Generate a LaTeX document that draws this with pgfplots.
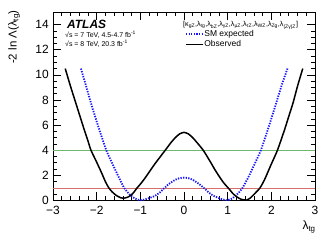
\documentclass[border=0pt]{standalone}
\usepackage{pgfplots}
\pgfplotsset{compat=1.18}
\usepackage{fontspec}
\setmainfont{Liberation Sans}
\definecolor{lgreen}{RGB}{110,185,110}
\definecolor{lred}{RGB}{215,110,110}
\definecolor{sblue}{RGB}{20,20,255}
\begin{document}
\begin{tikzpicture}
\begin{axis}[
  at={(0,0)}, anchor=south west,
  scale only axis, width=262bp, height=188.5bp,
  xmin=-3, xmax=3, ymin=0, ymax=15,
  xtick={-3,-2,-1,0,1,2,3}, xticklabels={−3,−2,−1,0,1,2,3},
  minor x tick num=4,
  ytick={0,2,4,6,8,10,12,14}, minor y tick num=3,
  tick align=inside, major tick length=8bp, minor tick length=4bp,
  tick style={black, line width=0.6bp},
  axis line style={line width=0.8bp},
  /pgf/number format/assume math mode=true,
  ticklabel style={font=\fontsize{12}{14}\selectfont},
  xticklabel style={yshift=-2.5bp},
  yticklabel style={xshift=-0.8bp},
  clip mode=individual,
  legend cell align=left,
  legend style={at={(axis cs:0.023,13.57)}, anchor=north west, draw=none, fill=none,
    inner sep=0pt, outer sep=0pt, font=\fontsize{8.5}{9}\selectfont, row sep=1.2bp,
    nodes={inner sep=0.6bp}},
  legend image code/.code={\draw[#1] (0bp,0bp) -- (17bp,0bp);},
]
\addplot[lgreen, line width=0.8bp, forget plot] coordinates {(-3,4) (3,4)};
\addplot[lred, line width=0.8bp, forget plot] coordinates {(-3,1) (3,1)};

\addplot[sblue, line width=1.8bp, dash pattern=on 1.3bp off 1.3bp, smooth, tension=0.4] coordinates {
(-2.36,10.5) (-2.25,9.2) (-2.1,7.4) (-1.95,5.75) (-1.78,4.0) (-1.65,3.0) (-1.5,1.9)
(-1.37,1.0) (-1.25,0.5) (-1.12,0.15) (-1.0,0.02) (-0.88,0.1) (-0.75,0.25) (-0.66,0.38)
(-0.55,0.65) (-0.47,0.92) (-0.35,1.3) (-0.2,1.65) (-0.1,1.78) (0,1.82)
(0.1,1.78) (0.2,1.65) (0.35,1.3) (0.48,0.92) (0.56,0.65) (0.67,0.38) (0.76,0.25)
(0.87,0.1) (0.98,0.02) (1.1,0.15) (1.22,0.5) (1.34,1.0) (1.48,1.9) (1.63,3.0)
(1.76,4.0) (1.93,5.75) (2.08,7.4) (2.24,9.2) (2.37,10.5)};
\addlegendentry{SM expected}

\addplot[black, line width=1.5bp, smooth, tension=0.4] coordinates {
(-2.72,10.5) (-2.6,9.1) (-2.5,8.0) (-2.4,6.9) (-2.3,5.8) (-2.2,4.75) (-2.13,4.0)
(-2.0,3.05) (-1.9,2.3) (-1.8,1.5) (-1.73,1.05) (-1.65,0.7) (-1.55,0.4) (-1.45,0.22)
(-1.39,0.18) (-1.3,0.25) (-1.22,0.4) (-1.15,0.65) (-1.08,0.98) (-1.0,1.3) (-0.9,1.75)
(-0.8,2.25) (-0.66,2.95) (-0.55,3.45) (-0.43,4.0) (-0.3,4.6) (-0.2,5.0) (-0.1,5.3)
(0,5.42) (0.1,5.3) (0.2,5.0) (0.3,4.6) (0.44,4.0) (0.6,3.1) (0.7,2.5) (0.8,1.95)
(0.9,1.45) (0.98,1.12) (1.05,0.85) (1.12,0.55) (1.2,0.32) (1.28,0.14) (1.36,0.05)
(1.43,0.03) (1.52,0.2) (1.62,0.55) (1.74,1.0) (1.85,1.7) (2.0,2.9) (2.14,4.0)
(2.3,5.6) (2.4,6.7) (2.5,7.8) (2.6,9.1) (2.72,10.5)};
\addlegendentry{Observed}

\node[anchor=west, inner sep=0pt, font=\fontsize{12}{13}\selectfont\bfseries\itshape] at (axis cs:-2.68,14.05) {ATLAS};
\node[anchor=west, inner sep=0pt, font=\fontsize{7}{8}\selectfont] at (axis cs:-2.725,13.22) {√s = 7 TeV, 4.5-4.7 fb\textsuperscript{-1}};
\node[anchor=west, inner sep=0pt, font=\fontsize{7}{8}\selectfont] at (axis cs:-2.725,12.45) {√s = 8 TeV, 20.3 fb\textsuperscript{-1}};
\node[anchor=west, inner sep=0pt, font=\fontsize{7.2}{8}\selectfont] at (axis cs:-0.023,13.93) {[κ\textsubscript{gZ},λ\textsubscript{tg},λ\textsubscript{bZ},λ\textsubscript{γZ},λ\textsubscript{μZ},λ\textsubscript{τZ},λ\textsubscript{WZ},λ\textsubscript{Zg},λ\textsubscript{(Zγ)Z}]};
\node[anchor=east, rotate=90, inner sep=0pt, font=\fontsize{11.5}{12}\selectfont] at (axis cs:-3.89,15.16) {-2 ln Λ(λ\textsubscript{tg})};
\node[anchor=east, inner sep=0pt, font=\fontsize{12}{13}\selectfont] at (axis cs:3.02,-2.1) {λ\textsubscript{tg}};
\end{axis}
\pgfresetboundingbox
\path[use as bounding box] (-53bp,-40.5bp) rectangle (279bp,200.5bp);
\end{tikzpicture}
\end{document}
